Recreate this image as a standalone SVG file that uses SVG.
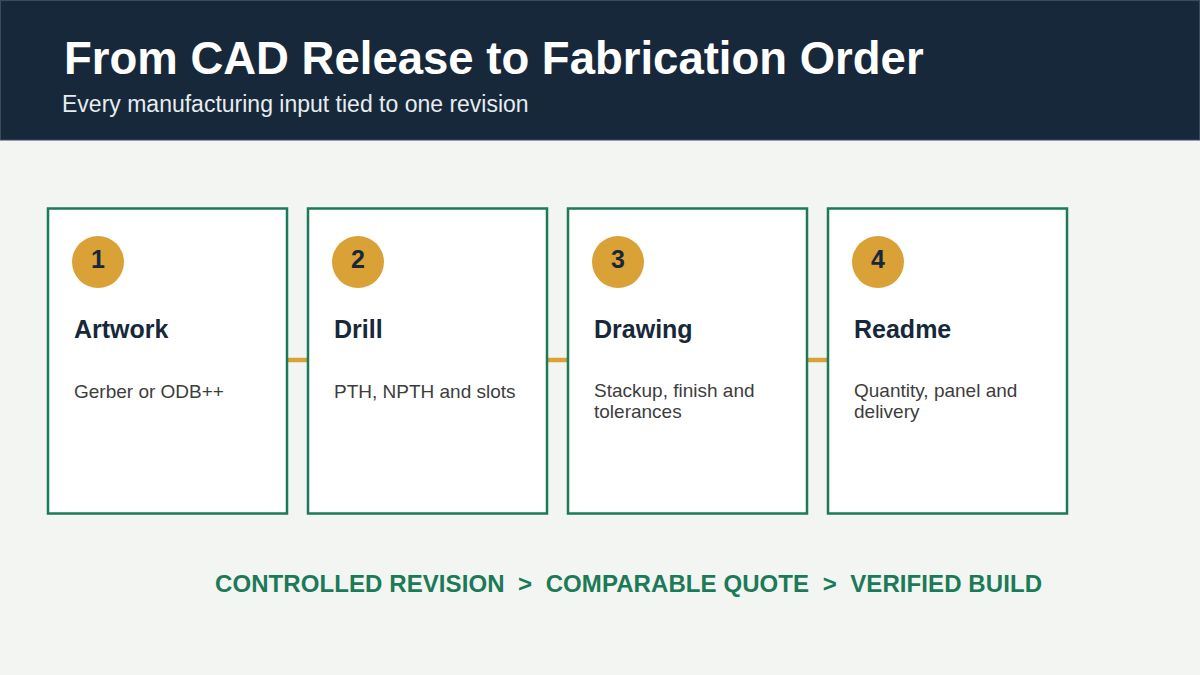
<svg xmlns="http://www.w3.org/2000/svg" width="1200" height="675" viewBox="0 0 1200 675">
<style>
.card{fill:#ffffff;stroke:#1b7a57;stroke-width:2.5}
.badge{fill:#d9a136}
.num{font-family:"Liberation Sans",Arial,sans-serif;font-weight:bold;font-size:25px;fill:#17283a;text-anchor:middle}
.ttl{font-family:"Liberation Sans",Arial,sans-serif;font-weight:bold;font-size:25px;fill:#17283a}
.desc{font-family:"Liberation Sans",Arial,sans-serif;font-size:19px;fill:#3d3d3d}
.conn{stroke:#d9a136;stroke-width:4.5}
</style>
<rect x="0" y="0" width="1200" height="675" fill="#f3f5f2"/>
<rect x="0.5" y="0.5" width="1199" height="139.5" fill="#17283a" stroke="#3a4b5c" stroke-width="1"/>
<text x="64" y="74" font-family="Liberation Sans, Arial, sans-serif" font-weight="bold" font-size="45.5" fill="#ffffff">From CAD Release to Fabrication Order</text>
<text x="62" y="112" font-family="Liberation Sans, Arial, sans-serif" font-size="23" fill="#e6ecf0">Every manufacturing input tied to one revision</text>
<g id="connectors">
<line class="conn" x1="288" y1="360" x2="307" y2="360"/>
<line class="conn" x1="548" y1="360" x2="567" y2="360"/>
<line class="conn" x1="808" y1="360" x2="827" y2="360"/>
</g>
<g id="node1">
<rect class="card" x="48" y="208.5" width="239" height="305"/>
<circle class="badge" cx="98" cy="262" r="26"/>
<text class="num" x="98" y="268">1</text>
<text class="ttl" x="74" y="338">Artwork</text>
<text class="desc" x="74" y="398">Gerber or ODB++</text>
</g>
<g id="node2">
<rect class="card" x="308" y="208.5" width="239" height="305"/>
<circle class="badge" cx="358" cy="262" r="26"/>
<text class="num" x="358" y="268">2</text>
<text class="ttl" x="334" y="338">Drill</text>
<text class="desc" x="334" y="398">PTH, NPTH and slots</text>
</g>
<g id="node3">
<rect class="card" x="568" y="208.5" width="239" height="305"/>
<circle class="badge" cx="618" cy="262" r="26"/>
<text class="num" x="618" y="268">3</text>
<text class="ttl" x="594" y="338">Drawing</text>
<text class="desc" x="594" y="397">Stackup, finish and</text>
<text class="desc" x="594" y="418">tolerances</text>
</g>
<g id="node4">
<rect class="card" x="828" y="208.5" width="239" height="305"/>
<circle class="badge" cx="878" cy="262" r="26"/>
<text class="num" x="878" y="268">4</text>
<text class="ttl" x="854" y="338">Readme</text>
<text class="desc" x="854" y="397">Quantity, panel and</text>
<text class="desc" x="854" y="418">delivery</text>
</g>
<text x="628.5" y="592" text-anchor="middle" font-family="Liberation Sans, Arial, sans-serif" font-weight="bold" font-size="24" fill="#1b7a57" xml:space="preserve" textLength="827" lengthAdjust="spacing">CONTROLLED REVISION  &gt;  COMPARABLE QUOTE  &gt;  VERIFIED BUILD</text>
</svg>
